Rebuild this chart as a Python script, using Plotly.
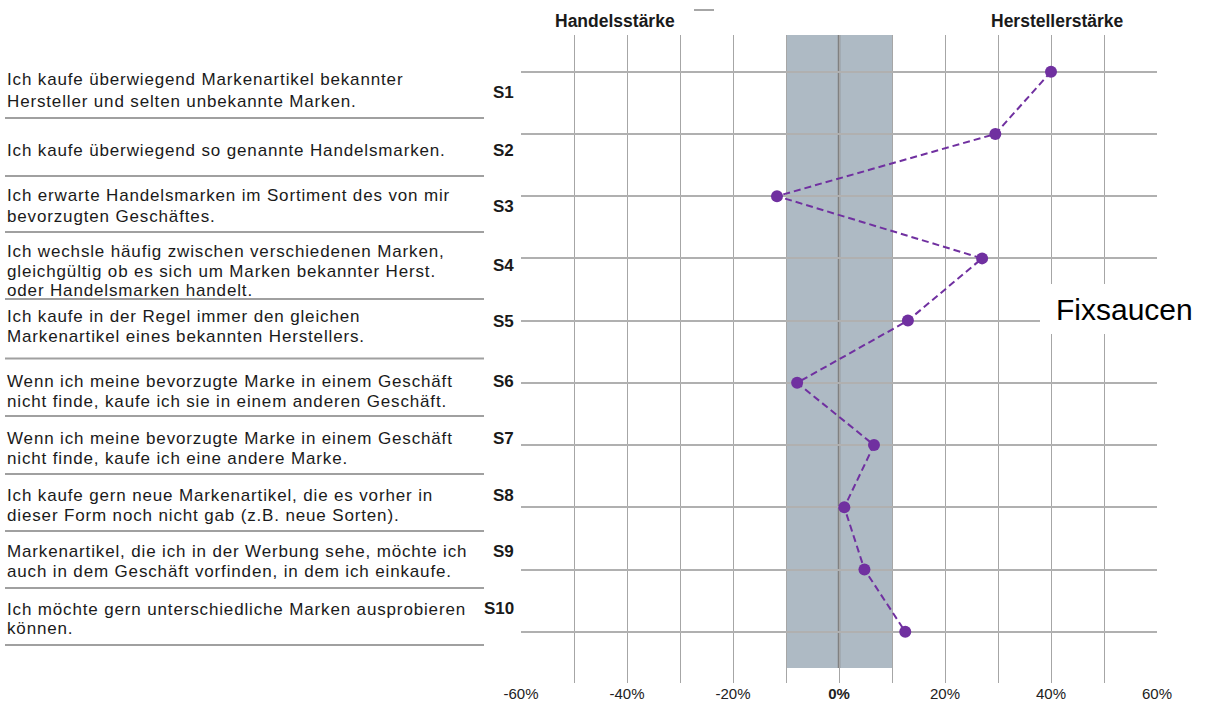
import plotly.graph_objects as go

# ---------------- data ----------------
statements = [
    "Ich kaufe überwiegend Markenartikel bekannter<br>Hersteller und selten unbekannte Marken.",
    "Ich kaufe überwiegend so genannte Handelsmarken.",
    "Ich erwarte Handelsmarken im Sortiment des von mir<br>bevorzugten Geschäftes.",
    "Ich wechsle häufig zwischen verschiedenen Marken,<br>gleichgültig ob es sich um Marken bekannter Herst.<br>oder Handelsmarken handelt.",
    "Ich kaufe in der Regel immer den gleichen<br>Markenartikel eines bekannten Herstellers.",
    "Wenn ich meine bevorzugte Marke in einem Geschäft<br>nicht finde, kaufe ich sie in einem anderen Geschäft.",
    "Wenn ich meine bevorzugte Marke in einem Geschäft<br>nicht finde, kaufe ich eine andere Marke.",
    "Ich kaufe gern neue Markenartikel, die es vorher in<br>dieser Form noch nicht gab (z.B. neue Sorten).",
    "Markenartikel, die ich in der Werbung sehe, möchte ich<br>auch in dem Geschäft vorfinden, in dem ich einkaufe.",
    "Ich möchte gern unterschiedliche Marken ausprobieren<br>können.",
]
codes = ["S1", "S2", "S3", "S4", "S5", "S6", "S7", "S8", "S9", "S10"]
values = [40.0, 29.5, -11.7, 27.0, 13.0, -7.9, 6.6, 1.0, 4.8, 12.5]
x_tick_values = [-60, -50, -40, -30, -20, -10, 0, 10, 20, 30, 40, 50, 60]
x_tick_labels = ["-60%", "", "-40%", "", "-20%", "", "<b>0%</b>", "", "20%", "", "40%", "", "60%"]
neutral_band = [-10, 10]
left_header = "Handelsstärke"
right_header = "Herstellerstärke"
series_name = "Fixsaucen"

# ---------------- layout constants (pixels) ----------------
W, H = 1206, 702
PL, PR, PT, PB = 521, 1157, 35, 683


def px(x):
    return (x - PL) / (PR - PL)


def py(y):
    return (PB - y) / (PB - PT)


line_y = [[80, 101.7], [150], [195, 216.7], [251.7, 271.7, 290], [316.7, 336.7],
          [381.7, 401.7], [438.3, 458.3], [495, 515], [551.7, 571.7], [609.3, 628.3]]
code_y = [92.7, 150, 206.7, 265, 321.7, 381.7, 438.3, 496, 551.7, 608.3]
sep_y = [118, 176, 232, 299, 358.5, 416, 474, 531, 588, 645]

rows = list(range(1, len(codes) + 1))
FONT = "Liberation Sans, Arial, sans-serif"

fig = go.Figure()
fig.add_trace(go.Scatter(
    x=values, y=rows, mode="lines+markers", name=series_name,
    line=dict(color="#7030a0", width=2, dash="7px,4px"),
    marker=dict(color="#7030a0", size=12),
    cliponaxis=False, showlegend=False, hoverinfo="x+y",
))

shapes = []
# neutral band
shapes.append(dict(type="rect", xref="x", yref="paper", x0=neutral_band[0], x1=neutral_band[1],
                   y0=py(668), y1=1, fillcolor="#aebac4", line=dict(width=0), layer="below"))
# centre line
shapes.append(dict(type="line", xref="x", yref="paper", x0=0, x1=0, y0=py(668), y1=1,
                   line=dict(color="#808080", width=2.5), layer="between"))
# separators on the left
for sy in sep_y:
    shapes.append(dict(type="line", xref="paper", yref="paper", x0=px(5), x1=px(484),
                       y0=py(sy), y1=py(sy), line=dict(color="#a0a0a0", width=2)))
# small mark at the top
shapes.append(dict(type="line", xref="paper", yref="paper", x0=px(694), x1=px(714),
                   y0=py(10), y1=py(10), line=dict(color="#a6a6a6", width=2)))
# white box behind the series label
shapes.append(dict(type="rect", xref="paper", yref="paper", x0=px(1040), x1=px(1206),
                   y0=py(334), y1=py(284), fillcolor="white", line=dict(width=0), layer="above"))

annotations = []
for stmt, ys in zip(statements, line_y):
    for line, yy in zip(stmt.split("<br>"), ys):
        annotations.append(dict(
            xref="paper", yref="paper", x=px(5), y=py(yy), xanchor="left", yanchor="middle",
            text=f'<span style="letter-spacing:0.85px">{line}</span>', showarrow=False,
            font=dict(family=FONT, size=17, color="#1a1a1a"),
        ))
for code, yy in zip(codes, code_y):
    annotations.append(dict(
        xref="paper", yref="paper", x=px(516), y=py(yy), xanchor="right", yanchor="middle",
        text=f"<b>{code}</b>", showarrow=False, font=dict(family=FONT, size=17, color="#1a1a1a"),
    ))
annotations.append(dict(xref="paper", yref="paper", x=px(615), y=py(21), xanchor="center",
                        yanchor="middle", text=f"<b>{left_header}</b>", showarrow=False,
                        font=dict(family=FONT, size=17.5, color="#1a1a1a")))
annotations.append(dict(xref="paper", yref="paper", x=px(1057), y=py(21), xanchor="center",
                        yanchor="middle", text=f"<b>{right_header}</b>", showarrow=False,
                        font=dict(family=FONT, size=17.5, color="#1a1a1a")))
annotations.append(dict(xref="paper", yref="paper", x=px(1124), y=py(309), xanchor="center",
                        yanchor="middle", text=series_name, showarrow=False,
                        font=dict(family=FONT, size=30, color="#000000")))

fig.update_layout(
    width=W, height=H,
    margin=dict(l=PL, r=W - PR, t=PT, b=H - PB, pad=0, autoexpand=False),
    paper_bgcolor="white", plot_bgcolor="white",
    shapes=shapes, annotations=annotations,
    font=dict(family=FONT),
    xaxis=dict(range=[-60, 60], tickvals=x_tick_values, ticktext=x_tick_labels,
               showgrid=True, gridcolor="#a6a6a6", gridwidth=1, zeroline=False,
               showline=False, ticks="", fixedrange=True, automargin=False,
               tickfont=dict(family=FONT, size=15, color="#222222")),
    yaxis=dict(range=[10.824, 0.41], tickvals=rows, showticklabels=False,
               showgrid=True, gridcolor="#b0b0b0", gridwidth=1.5, zeroline=False,
               showline=False, ticks="", fixedrange=True, automargin=False),
)

page_js = (
    "document.documentElement.style.margin='0';"
    "document.body.style.margin='0';document.body.style.padding='0';"
)
fig.write_html("out.html", config={"displayModeBar": False}, post_script=page_js)
